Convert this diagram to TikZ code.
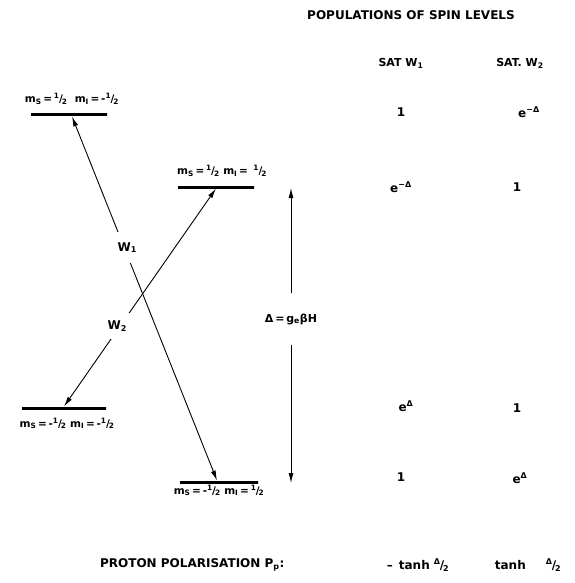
\documentclass[tikz,border=0pt]{standalone}
\usepackage{fontspec}
\setmainfont{DejaVu Sans}
\usetikzlibrary{arrows.meta, positioning}

\newcommand{\half}{\textsuperscript{1}\kern-.05em/\kern-.1em\textsubscript{2}}
\newcommand{\mS}{m\textsubscript{S}}
\newcommand{\mI}{m\textsubscript{I}}

\begin{document}
\begin{tikzpicture}[
        x=1pt, y=-1pt,
        font=\fontsize{11}{13}\selectfont\bfseries,
        level/.style={draw, line width=3pt, minimum width=76pt, minimum height=0pt, inner sep=0pt},
        levellabel/.style={inner sep=1pt, font=\fontsize{10.5}{12}\selectfont\bfseries},
        trans/.style={{Latex[length=10pt,width=5pt]}-{Latex[length=10pt,width=5pt]}, line width=0.9pt},
        arr/.style={-{Latex[length=10pt,width=5pt]}, line width=0.9pt},
        rate/.style={fill=white, inner xsep=3pt, inner ysep=10pt, font=\fontsize{12}{14}\selectfont\bfseries},
        popval/.style={font=\fontsize{12}{14}\selectfont\bfseries}
    ]
        \useasboundingbox (0,0) rectangle (574,583);

        % Levels
        \node (lvA) [level] at (69,115) {};
        \node (lvB) [level] at (216,187) {};
        \node (lvC) [level, minimum width=84pt] at (64,408) {};
        \node (lvD) [level, minimum width=78pt] at (219,482) {};

        \node [levellabel, above=8pt of lvA, xshift=3pt] {\mS\,=\,\half\ \ \mI\,=\,-\half};
        \node [levellabel, above=8pt of lvB, xshift=6pt] {\mS\,=\,\half\ \mI\,=\,\ \half};
        \node [levellabel, below=7pt of lvC, xshift=3pt] {\mS\,=\,-\half\ \mI\,=\,-\half};
        \node [levellabel, below=0pt of lvD] {\mS\,=\,-\half\ \mI\,=\,\half};

        % Transitions
        \draw [trans] ([xshift=3pt]lvA.south) -- node [rate, pos=0.36, xshift=3pt] {W\textsubscript{1}} ([xshift=-2pt]lvD.north);
        \draw [trans] (lvB.south) -- node [rate, pos=0.63, inner ysep=8pt, xshift=-3pt] {W\textsubscript{2}} (lvC.north);

        % Splitting
        \node (gap) [inner ysep=20pt] at (291,319) {Δ\,=\,g\textsubscript{e}βH};
        \coordinate (dtop) at (291,188);
        \coordinate (dbot) at (291,483);
        \draw [arr] (gap) -- (dtop);
        \draw [arr] (gap) -- (dbot);

        % Populations
        \node (hdr) [font=\fontsize{12}{14}\selectfont\bfseries] at (411,15) {POPULATIONS OF SPIN LEVELS};
        \node (sat1) at (401,63) {SAT W\textsubscript{1}};
        \node (sat2) at (520,63) {SAT. W\textsubscript{2}};

        \node [popval, yshift=3pt] at (sat1 |- lvA) {1};
        \node [popval, yshift=3pt, xshift=9pt] at (sat2 |- lvA) {e\textsuperscript{−Δ}};
        \node [popval] at (sat1 |- lvB) {e\textsuperscript{−Δ}};
        \node [popval, xshift=-3pt] at (sat2 |- lvB) {1};
        \node [popval, yshift=2pt, xshift=5pt] at (sat1 |- lvC) {e\textsuperscript{Δ}};
        \node [popval, xshift=-3pt] at (sat2 |- lvC) {1};
        \node [popval, yshift=5pt] at (sat1 |- lvD) {1};
        \node [popval, yshift=4pt] at (sat2 |- lvD) {e\textsuperscript{Δ}};

        % Polarisation
        \node (ppol) [anchor=east, font=\fontsize{12}{14}\selectfont\bfseries] at (288,565) {PROTON POLARISATION P\textsubscript{p}:};
        \node (pol1) [font=\fontsize{12}{14}\selectfont\bfseries] at (418,565) {–\hspace{6pt}tanh\hspace{4pt}\textsuperscript{Δ}\kern-.05em/\kern-.1em\textsubscript{2}};
        \node (pol2) [font=\fontsize{12}{14}\selectfont\bfseries] at (528,565) {tanh\hspace{20pt}\textsuperscript{Δ}\kern-.05em/\kern-.1em\textsubscript{2}};
    \end{tikzpicture}
\end{document}
